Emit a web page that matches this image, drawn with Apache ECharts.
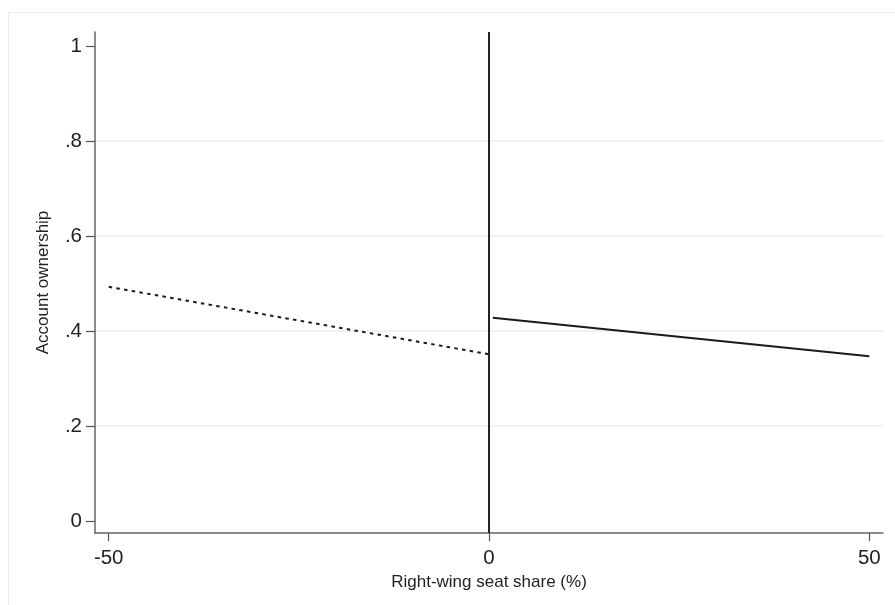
<!DOCTYPE html>
<html>
<head>
<meta charset="utf-8">
<script src="https://cdn.jsdelivr.net/npm/echarts@6/dist/echarts.min.js"></script>
<style>
  html, body { margin: 0; padding: 0; background: #fff; }
  #chart { width: 895px; height: 605px; }
</style>
</head>
<body>
<div id="chart"></div>
<script>
// Fitted lines on each side of the cutoff
const leftX = [-50, 0];
const leftY = [0.493, 0.351];
const rightX = [0.5, 50];
const rightY = [0.428, 0.347];

const xTicks = [-50, 0, 50];
const yTicks = [0, 0.2, 0.4, 0.6, 0.8, 1];
const gridValues = [0.2, 0.4, 0.6, 0.8];
const cutoff = 0;

const FONT = '"Liberation Sans", Arial, sans-serif';

function pairs(xs, ys) { return xs.map((x, i) => [x, ys[i]]); }
function fmtY(v) {
  if (v === 0) return '0';
  if (v === 1) return '1';
  return String(+v.toFixed(1)).replace(/^0/, '');
}

const chart = echarts.init(document.getElementById('chart'), null, { renderer: 'canvas' });
chart.setOption({
  animation: false,
  backgroundColor: '#ffffff',
  graphic: [{
    type: 'rect', z: -10, silent: true,
    shape: { x: 8.5, y: 12.5, width: 900, height: 600 },
    style: { fill: 'none', stroke: '#ececec', lineWidth: 1 }
  }],
  grid: { left: 95, right: 12, top: 32, bottom: 72, containLabel: false },
  xAxis: {
    type: 'value', min: -51.8, max: 51.8,
    name: 'Right-wing seat share (%)', nameLocation: 'middle', nameGap: 32,
    nameTextStyle: { fontFamily: FONT, fontSize: 17, color: '#222' },
    axisLine: { show: true, onZero: false, lineStyle: { color: '#666', width: 1.5 } },
    axisTick: { show: true, customValues: xTicks, length: 8, lineStyle: { color: '#555', width: 1.2 } },
    axisLabel: { customValues: xTicks, fontFamily: FONT, fontSize: 20.5, color: '#222', margin: 15 },
    splitLine: { show: false }
  },
  yAxis: {
    type: 'value', min: -0.0253, max: 1.0295,
    name: 'Account ownership', nameLocation: 'middle', nameGap: 43,
    nameTextStyle: { fontFamily: FONT, fontSize: 17, color: '#222' },
    axisLine: { show: true, onZero: false, lineStyle: { color: '#666', width: 1.5 } },
    axisTick: { show: true, customValues: yTicks, length: 9, lineStyle: { color: '#555', width: 1.2 } },
    axisLabel: { customValues: yTicks, formatter: fmtY, fontFamily: FONT, fontSize: 20.5, color: '#222', margin: 13 },
    splitLine: { show: false }
  },
  series: [
    {
      type: 'line', name: 'grid', data: [], silent: true, z: 0,
      markLine: {
        silent: true, z: 0, symbol: ['none', 'none'], label: { show: false },
        lineStyle: { color: '#ececec', width: 1.5, type: 'solid' },
        data: gridValues.map(v => ({ yAxis: v }))
      }
    },
    {
      type: 'line', name: 'left', data: pairs(leftX, leftY), showSymbol: false, z: 6,
      lineStyle: { color: '#1a1a1a', width: 2, type: [3.5, 4.3] }
    },
    {
      type: 'line', name: 'right', data: pairs(rightX, rightY), showSymbol: false, z: 6,
      lineStyle: { color: '#1a1a1a', width: 2, type: 'solid' },
      markLine: {
        silent: true, z: 7, symbol: ['none', 'none'], label: { show: false },
        lineStyle: { color: '#222', width: 2, type: 'solid' },
        data: [{ xAxis: cutoff }]
      }
    }
  ]
});
</script>
</body>
</html>
